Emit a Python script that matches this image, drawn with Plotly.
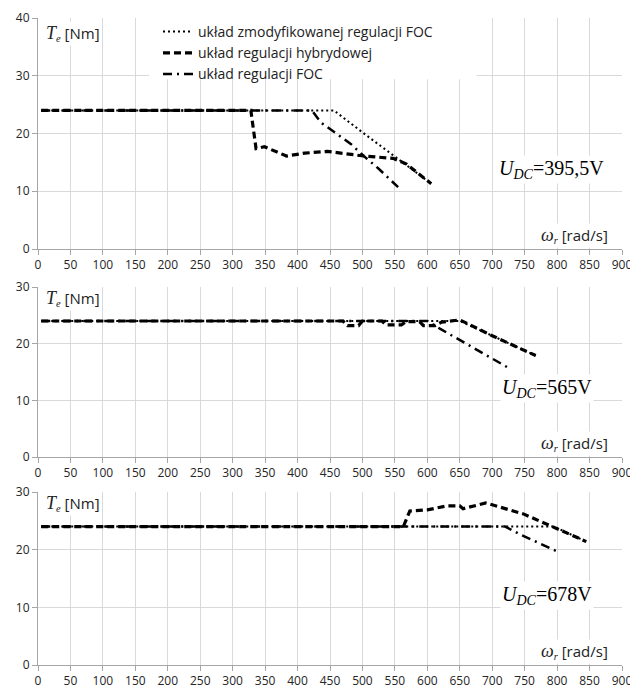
import plotly.graph_objects as go

# ---------------- data ----------------
# Panel 1: U_DC = 395,5 V
w_mod_1 = [5, 456, 500, 553, 606]
t_mod_1 = [24, 24, 20.2, 15.8, 11.3]
w_hyb_1 = [5, 328, 336, 349, 383, 411, 446, 471, 502, 547, 568, 606]
t_hyb_1 = [24, 24, 17.4, 17.7, 16.1, 16.6, 16.9, 16.6, 16.1, 15.7, 14.7, 11.3]
w_foc_1 = [5, 422, 436, 482, 502, 525, 555]
t_foc_1 = [24, 24, 21.9, 18.2, 16.1, 13.9, 10.7]

# Panel 2: U_DC = 565 V
w_mod_2 = [5, 650, 700, 767]
t_mod_2 = [24, 24, 21.4, 17.9]
w_hyb_2 = [5, 470, 477, 494, 500, 530, 536, 560, 567, 588, 594, 612, 622, 650, 700, 767]
t_hyb_2 = [24, 24, 23.2, 23.2, 24, 24, 23.3, 23.3, 23.9, 23.9, 23.2, 23.2, 23.8, 24.2, 21.4, 17.9]
w_foc_2 = [5, 600, 620, 655, 690, 724]
t_foc_2 = [24, 24, 22.6, 20.3, 18.1, 15.8]

# Panel 3: U_DC = 678 V
w_mod_3 = [5, 795, 845]
t_mod_3 = [24, 24, 21.4]
w_hyb_3 = [5, 563, 573, 600, 630, 650, 655, 690, 748, 798, 845]
t_hyb_3 = [24, 24, 26.7, 26.9, 27.6, 27.6, 27.1, 28.1, 26.2, 23.8, 21.4]
w_foc_3 = [5, 720, 742, 770, 800]
t_foc_3 = [24, 24, 22.7, 21.3, 19.7]

x_ticks = list(range(0, 901, 50))
y_max = [40, 30, 30]
udc_labels = ["395,5V", "565V", "678V"]
udc_pos = [(707, 13.8), (712, 12.0), (712, 12.1)]
series_names = ["układ zmodyfikowanej regulacji FOC", "układ regulacji hybrydowej", "układ regulacji FOC"]

panels = [
    (w_mod_1, t_mod_1, w_hyb_1, t_hyb_1, w_foc_1, t_foc_1),
    (w_mod_2, t_mod_2, w_hyb_2, t_hyb_2, w_foc_2, t_foc_2),
    (w_mod_3, t_mod_3, w_hyb_3, t_hyb_3, w_foc_3, t_foc_3),
]

# ---------------- figure ----------------
# page body has an 8px margin, so the figure is laid out 8px smaller/offset
OFF = 8
W, H = 638 - OFF, 688 - OFF
ml, mr, mt, mb = 38 - OFF, 16, 18 - OFF, 23
ph = H - mt - mb
rows_px = [(18 - OFF, 249 - OFF), (287 - OFF, 457 - OFF), (492 - OFF, 665 - OFF)]
domains = [[(H - mb - b) / ph, (H - mb - t) / ph] for (t, b) in rows_px]

fig = go.Figure()
styles = [
    dict(dash="2px,3px", width=2),
    dict(dash="7px,4px", width=3.2),
    dict(dash="9px,5px,2px,5px", width=2.5),
]
SERIF = "Liberation Serif, Times New Roman, serif"
SANS = "Open Sans, sans-serif"

for i, p in enumerate(panels):
    xa = "x" if i == 0 else f"x{i+1}"
    ya = "y" if i == 0 else f"y{i+1}"
    data = [(p[0], p[1]), (p[2], p[3]), (p[4], p[5])]
    order = [2, 0, 1]
    for k in order:
        wx, ty = data[k]
        fig.add_trace(go.Scatter(
            x=wx, y=ty, mode="lines", name=series_names[k],
            line=dict(color="black", **styles[k]),
            xaxis=xa, yaxis=ya, showlegend=(i == 0), legendrank=k + 1,
            hoverinfo="skip",
        ))

axis_common = dict(
    showgrid=True, gridcolor="#d9d9d9", gridwidth=1,
    showline=True, linecolor="#a6a6a6", linewidth=1,
    ticks="outside", ticklen=5, tickcolor="#a6a6a6",
    tickfont=dict(family=SANS, size=12, color="#262626"),
    zeroline=False, fixedrange=True, automargin=False,
)

layout = dict(
    width=W, height=H,
    margin=dict(l=ml, r=mr, t=mt, b=mb, autoexpand=False),
    paper_bgcolor="white", plot_bgcolor="white",
    showlegend=True,
    legend=dict(
        x=(158 - 38) / (W - ml - mr), y=(H - mb - (16 - OFF)) / ph,
        xanchor="left", yanchor="top",
        bgcolor="rgba(0,0,0,0)", font=dict(family=SANS, size=14, color="#222222"),
        tracegroupgap=0, itemwidth=30,
    ),
)

shapes = []
annotations = []
for i in range(3):
    xk = "xaxis" if i == 0 else f"xaxis{i+1}"
    yk = "yaxis" if i == 0 else f"yaxis{i+1}"
    xa = "x" if i == 0 else f"x{i+1}"
    ya = "y" if i == 0 else f"y{i+1}"
    layout[xk] = dict(axis_common, domain=[0, 1], range=[0, 900], tickvals=x_ticks,
                      anchor=ya, mirror=False)
    layout[yk] = dict(axis_common, domain=domains[i], range=[0, y_max[i]],
                      dtick=10, tick0=0, anchor=xa)
    annotations.append(dict(
        x=10, y=y_max[i] - 2.6 if i == 0 else y_max[i] - 2.0, xref=xa, yref=ya,
        xanchor="left", yanchor="middle", showarrow=False, bgcolor="white",
        text=(f"<span style='font-family:{SERIF};font-style:italic;font-size:18px'>T</span>"
              f"<sub><span style='font-family:{SERIF};font-style:italic'>e</span></sub>"
              f"<span style='font-size:15px'> [Nm]</span>"),
        font=dict(family=SANS, size=15, color="#222222"),
    ))
    annotations.append(dict(
        x=882, y=2.4, xref=xa, yref=ya, xanchor="right", yanchor="middle",
        showarrow=False, bgcolor="white",
        text=(f"<span style='font-family:{SERIF};font-style:italic;font-size:18px'>ω</span>"
              f"<sub><span style='font-family:{SERIF};font-style:italic'>r</span></sub>"
              f"<span style='font-size:15px'> [rad/s]</span>"),
        font=dict(family=SANS, size=15, color="#222222"),
    ))
    ux, uy = udc_pos[i]
    annotations.append(dict(
        x=ux, y=uy, xref=xa, yref=ya, xanchor="left", yanchor="middle",
        showarrow=False, bgcolor="white",
        text=f"<i>U</i><sub><i>DC</i></sub>={udc_labels[i]}",
        font=dict(family=SERIF, size=20, color="black"),
    ))

shapes.append(dict(type="rect", xref="x", yref="y", x0=171, x1=676, y0=29.4, y1=40,
                   fillcolor="white", line=dict(width=0), layer="between"))

layout["shapes"] = shapes
layout["annotations"] = annotations
fig.update_layout(**layout)

fig.write_html("out.html")
